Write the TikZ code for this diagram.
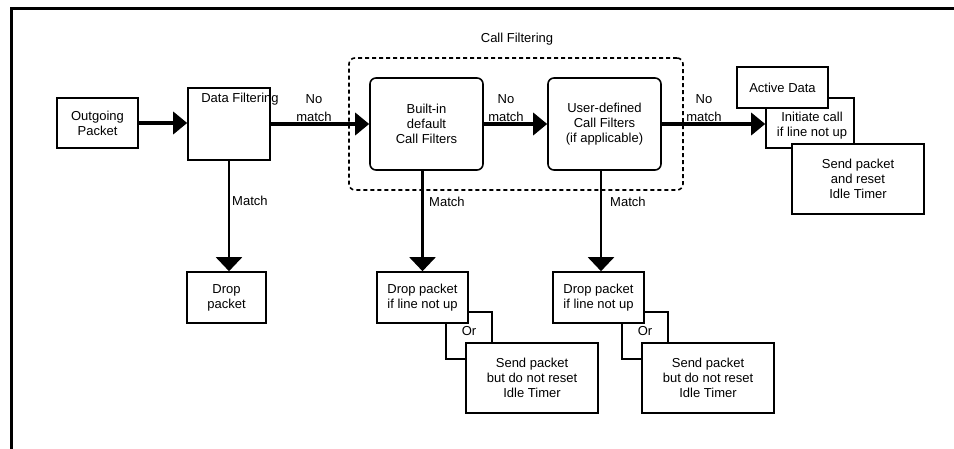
\documentclass[tikz,border=0pt]{standalone}
\usepackage{fontspec}
\setmainfont{Liberation Sans}
\usetikzlibrary{arrows.meta}
\newcommand\dgfont{\fontsize{13}{15}\selectfont}
\begin{document}
\begin{tikzpicture}[x=1pt,y=-1pt,
  box/.style={draw,line width=1.6pt,inner sep=0pt,align=center,font=\dgfont,fill=white},
  rbox/.style={box,rounded corners=6pt},
  dbox/.style={draw,line width=1.6pt,inner sep=0pt,rounded corners=6pt,dash pattern=on 4pt off 3pt},
  lbl/.style={inner sep=0pt,align=center,font=\dgfont},
  mainflow/.style={line width=3.5pt,-{Triangle[length=14pt,width=22pt]}},
  vertflow/.style={line width=2.2pt,-{Triangle[length=14pt,width=26pt]}},
  conn/.style={line width=1.6pt},
  frameline/.style={line width=3pt}]
\useasboundingbox (0,0) rectangle (954,449);
% frame
\coordinate (fa) at (11,449);
\coordinate (fb) at (11,9);
\coordinate (fc) at (954,9);
\draw[frameline] (fa) -- (fb) -- (fc);
% nodes
\node[box,minimum width=81pt,minimum height=50pt] (out) at (97.5,123) {Outgoing\\Packet};
\node[box,minimum width=82pt,minimum height=72pt] (df) at (229,124) {};
\node[lbl] (dft) at (240,99) {Data Filtering};
\node[dbox,minimum width=334pt,minimum height=132pt] (cf) at (516,124) {};
\node[lbl] (cft) at (517,39) {Call Filtering};
\node[rbox,minimum width=113pt,minimum height=92pt] (bi) at (426.5,124) {Built-in\\default\\Call Filters};
\node[rbox,minimum width=113pt,minimum height=92pt] (ud) at (604.5,124) {User-defined\\Call Filters\\(if applicable)};
\node[box,minimum width=88pt,minimum height=50pt] (init) at (810,123) {};
\node[lbl] (initt) at (812,126) {Initiate call\\if line not up};
\node[box,minimum width=91pt,minimum height=41pt] (act) at (782.5,87.5) {Active Data};
\node[box,minimum width=132pt,minimum height=70pt] (send1) at (858,179) {Send packet\\and reset\\Idle Timer};
\node[box,minimum width=79pt,minimum height=51pt] (drop1) at (226.5,297.5) {Drop\\packet};
\node[box,minimum width=91pt,minimum height=51pt] (drop2) at (422.5,297.5) {Drop packet\\if line not up};
\node[box,minimum width=91pt,minimum height=51pt] (drop3) at (598.5,297.5) {Drop packet\\if line not up};
\node[box,minimum width=132pt,minimum height=70pt] (send2) at (532,378) {Send packet\\but do not reset\\Idle Timer};
\node[box,minimum width=132pt,minimum height=70pt] (send3) at (708,378) {Send packet\\but do not reset\\Idle Timer};
% labels
\node[lbl] (nm1) at (314,108) {No\\[3pt]match};
\node[lbl] (nm2) at (506,108) {No\\[3pt]match};
\node[lbl] (nm3) at (704,108) {No\\[3pt]match};
\node[lbl,anchor=west] (m1) at (232,201) {Match};
\node[lbl,anchor=west] (m2) at (429,202) {Match};
\node[lbl,anchor=west] (m3) at (610,202) {Match};
\node[lbl] (or2) at (469,331) {Or};
\node[lbl] (or3) at (645,331) {Or};
% connectors
\draw[mainflow] (out.east) -- (out.east -| df.west);
\draw[mainflow] (df.east) -- (bi.west);
\draw[mainflow] (bi.east) -- (ud.west);
\draw[mainflow] (ud.east) -- (ud.east -| init.west);
\draw[vertflow] (df.south) -- (df.south |- drop1.north);
\draw[vertflow] (drop2.north |- bi.south) -- (drop2.north);
\draw[vertflow] ([xshift=2.5pt]drop3.north |- ud.south) -- ([xshift=2.5pt]drop3.north);
\draw[conn] ([xshift=23.5pt]drop2.south) |- ([yshift=19pt]send2.west);
\draw[conn] ([yshift=-14.5pt]drop2.east) -| ([xshift=-40pt]send2.north);
\draw[conn] ([xshift=23.5pt]drop3.south) |- ([yshift=19pt]send3.west);
\draw[conn] ([yshift=-14.5pt]drop3.east) -| ([xshift=-40pt]send3.north);
\end{tikzpicture}
\end{document}
